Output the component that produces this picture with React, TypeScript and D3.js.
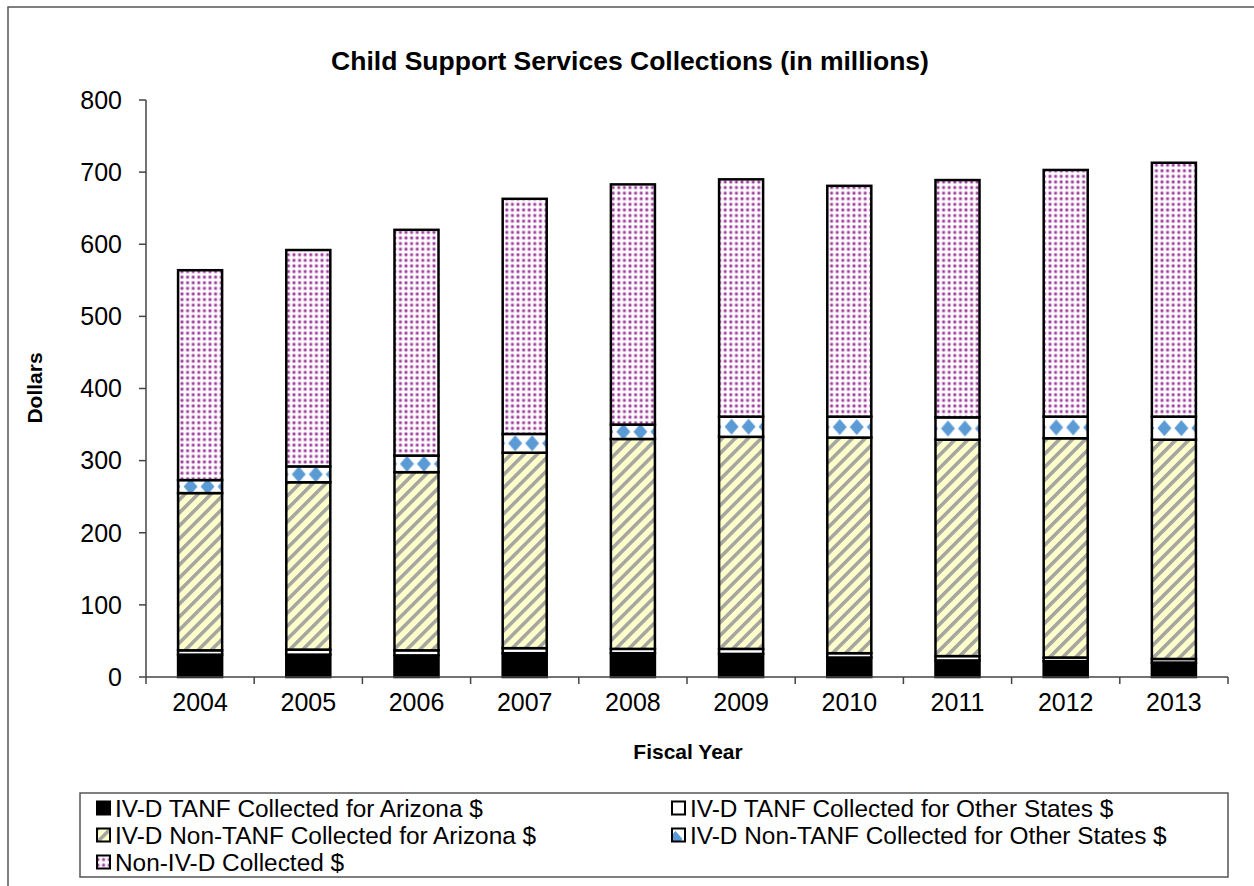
import React from "react";
import * as d3 from "d3";

const years = ["2004","2005","2006","2007","2008","2009","2010","2011","2012","2013"];
const tanfAZ = [31, 31, 30, 33, 33, 32, 27, 23, 22, 20];
const tanfOther = [6, 7, 7, 7, 6, 7, 6, 6, 5, 5];
const nonTanfAZ = [218, 232, 247, 271, 291, 294, 299, 300, 304, 304];
const nonTanfOther = [18, 22, 23, 26, 20, 28, 29, 31, 30, 32];
const nonIVD = [291, 300, 313, 326, 333, 329, 320, 329, 342, 352];
const yTicks = [0, 100, 200, 300, 400, 500, 600, 700, 800];

const seriesNames = [
  "IV-D TANF Collected for Arizona $",
  "IV-D TANF Collected for Other States $",
  "IV-D Non-TANF Collected for Arizona $",
  "IV-D Non-TANF Collected for Other States $",
  "Non-IV-D Collected $",
];
const seriesFills = ["#000000", "#ffffff", "url(#hatch)", "url(#diamond)", "url(#dots)"];

const FONT = "Arial, 'Liberation Sans', Helvetica, sans-serif";

export default function App() {
  const x = d3.scaleBand<string>().domain(years).range([146, 1228]).paddingInner(0.593).paddingOuter(0.2965);
  const y = d3.scaleLinear().domain([0, 800]).range([677, 100]);
  const stackData = years.map((yr, i) => ({
    year: yr, s0: tanfAZ[i], s1: tanfOther[i], s2: nonTanfAZ[i], s3: nonTanfOther[i], s4: nonIVD[i],
  }));
  const stack = d3.stack<any>().keys(["s0", "s1", "s2", "s3", "s4"])(stackData);
  const boundaries = d3.range(years.length + 1).map((i) => 146 + (i * 1082) / years.length);
  const diamondLayer = stack[3];

  const fillFor = (li: number, i: number) => (li === 3 ? `url(#diamond${i})` : seriesFills[li]);

  return (
    <svg width={1254} height={886} style={{ position: "absolute", left: 0, top: 0 }} fontFamily={FONT}>
      <defs>
        <pattern id="hatch" patternUnits="userSpaceOnUse" width={9.2} height={9.2} patternTransform="rotate(45)">
          <rect width={9.2} height={9.2} fill="#ffffcc" />
          <rect x={0} width={3.6} height={9.2} fill="#a6a6a0" />
        </pattern>
        <pattern id="dots" patternUnits="userSpaceOnUse" width={5.6} height={5.6}>
          <rect width={5.6} height={5.6} fill="#ffffff" />
          <circle cx={2.8} cy={2.8} r={2.2} fill="#e4c4e4" />
          <circle cx={2.8} cy={2.8} r={1.3} fill="#9a3c9a" />
        </pattern>
        <pattern id="diamond" patternUnits="userSpaceOnUse" width={17} height={18} x={4} y={2}>
          <rect width={17} height={18} fill="#ffffff" />
          <polygon points="8.5,1 15.5,9 8.5,17 1.5,9" fill="#5b9bd5" />
        </pattern>
        {diamondLayer.map((d: any, i: number) => {
          const cy = (y(d[0]) + y(d[1])) / 2;
          const bx = x(years[i]) as number;
          return (
            <pattern key={i} id={`diamond${i}`} patternUnits="userSpaceOnUse" width={17} height={18} x={bx + 4} y={cy - 9}>
              <rect width={17} height={18} fill="#ffffff" />
              <polygon points="8.5,1 15.5,9 8.5,17 1.5,9" fill="#5b9bd5" />
            </pattern>
          );
        })}
      </defs>

      {/* outer frame */}
      <rect x={8} y={7} width={1260} height={900} fill="none" stroke="#555" strokeWidth={1.5} />

      {/* title */}
      <text x={630} y={70} textAnchor="middle" fontSize={26.5} fontWeight="bold">
        Child Support Services Collections (in millions)
      </text>

      {/* bars */}
      {stack.map((layer, li) => (
        <g key={li}>
          {layer.map((d: any, i: number) => (
            <rect
              key={i}
              x={x(years[i])}
              y={y(d[1])}
              width={x.bandwidth()}
              height={y(d[0]) - y(d[1])}
              fill={fillFor(li, i)}
              stroke="#000"
              strokeWidth={2.5}
            />
          ))}
        </g>
      ))}

      {/* y axis */}
      <line x1={146} x2={146} y1={100} y2={677} stroke="#444" strokeWidth={1.5} />
      {yTicks.map((t) => (
        <g key={t}>
          <line x1={139} x2={146} y1={y(t)} y2={y(t)} stroke="#444" strokeWidth={1.5} />
          <text x={122} y={y(t)} dy="0.35em" textAnchor="end" fontSize={25}>{t}</text>
        </g>
      ))}

      {/* x axis */}
      <line x1={146} x2={1228} y1={677} y2={677} stroke="#444" strokeWidth={1.5} />
      {boundaries.map((b, i) => (
        <line key={i} x1={b} x2={b} y1={677} y2={684} stroke="#444" strokeWidth={1.5} />
      ))}
      {years.map((yr) => (
        <text key={yr} x={(x(yr) as number) + x.bandwidth() / 2} y={702} dy="0.35em" textAnchor="middle" fontSize={25}>{yr}</text>
      ))}

      <text x={688} y={752} dy="0.35em" textAnchor="middle" fontSize={21} fontWeight="bold">Fiscal Year</text>
      <text transform="translate(35,388) rotate(-90)" dy="0.35em" textAnchor="middle" fontSize={21} fontWeight="bold">Dollars</text>

      {/* legend */}
      <rect x={80} y={793} width={1148} height={84} fill="#fff" stroke="#555" strokeWidth={1.5} />
      {seriesNames.map((name, i) => {
        const col = i % 2;
        const row = Math.floor(i / 2);
        const mx = col === 0 ? 97 : 672;
        const cy = 808 + row * 27;
        return (
          <g key={name}>
            <rect x={mx} y={cy - 6.5} width={13} height={13} fill={seriesFills[i]} stroke="#000" strokeWidth={2} />
            <text x={mx + 18} y={cy} dy="0.35em" fontSize={24.4}>{name}</text>
          </g>
        );
      })}
    </svg>
  );
}
